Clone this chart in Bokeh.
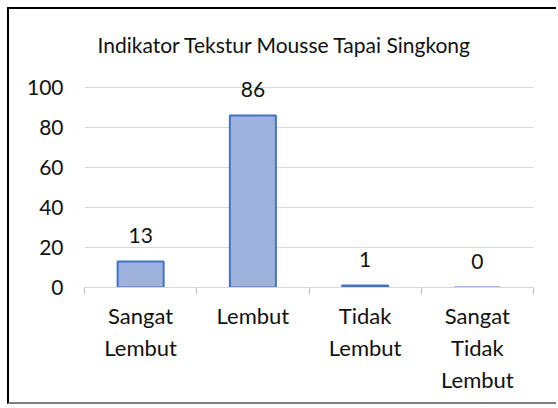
from bokeh.plotting import figure
from bokeh.models import Range1d, FixedTicker, ColumnDataSource
from bokeh.core.properties import value
from bokeh.embed import file_html
from bokeh.resources import INLINE

title_text = "Indikator Tekstur Mousse Tapai Singkong"
categories = ["Sangat\nLembut", "Lembut", "Tidak\nLembut", "Sangat\nTidak\nLembut"]
values = [13, 86, 1, 0]
y_ticks = [0, 20, 40, 60, 80, 100]

xpos = [i + 0.5 for i in range(len(categories))]
src = ColumnDataSource(dict(x=xpos, top=values, label=[str(v) for v in values]))

FONT = "Lato"
TXT = "#111111"

p = figure(width=549, height=397, output_backend="svg", toolbar_location=None,
           x_range=Range1d(0, len(categories)), y_range=Range1d(0, 110),
           min_border_left=75, min_border_right=25, min_border_top=58, min_border_bottom=119,
           outline_line_color=None, background_fill_color="white", border_fill_color="white")
p.styles = {"margin-left": "7px", "margin-top": "7px",
            "border-left": "2px solid black", "border-top": "2px solid black",
            "border-bottom": "2px solid #808080"}

p.title.text = title_text
p.title.align = "left"
p.title.text_font = FONT
p.title.text_font_size = "21px"
p.title.text_font_style = "normal"
p.title.text_color = TXT
p.title.offset = 13
p.title.standoff = 21

p.vbar(x="x", top="top", width=0.41, source=src, fill_color="#9FB1DD",
       line_color="#4472C4", line_width=2)
p.text(x="x", y="top", text="label", source=src, text_align="center",
       text_baseline="alphabetic", y_offset=-26, text_font=value(FONT),
       text_font_size="21px", text_color=TXT)

# x axis
p.xaxis.ticker = FixedTicker(ticks=xpos, minor_ticks=list(range(len(categories) + 1)))
p.xaxis.major_label_overrides = {x: c for x, c in zip(xpos, categories)}
p.xaxis.major_tick_line_color = None
p.xaxis.minor_tick_line_color = "#BFBFBF"
p.xaxis.minor_tick_out = 7
p.xaxis.minor_tick_in = 0
p.xaxis.axis_line_color = "#D9D9D9"
p.xaxis.major_label_text_font = FONT
p.xaxis.major_label_text_font_size = "22px"
p.xaxis.major_label_text_color = TXT
p.xaxis.major_label_standoff = 7
p.xgrid.grid_line_color = None

# y axis
p.yaxis.ticker = FixedTicker(ticks=y_ticks)
p.yaxis.axis_line_color = None
p.yaxis.major_tick_line_color = None
p.yaxis.minor_tick_line_color = None
p.yaxis.major_label_text_font = FONT
p.yaxis.major_label_text_font_size = "21px"
p.yaxis.major_label_text_color = TXT
p.yaxis.major_label_standoff = 15
p.ygrid.ticker = FixedTicker(ticks=y_ticks)
p.ygrid.grid_line_color = "#D9D9D9"
p.ygrid.grid_line_width = 1.2

open("out.html", "w").write(file_html(p, INLINE))
